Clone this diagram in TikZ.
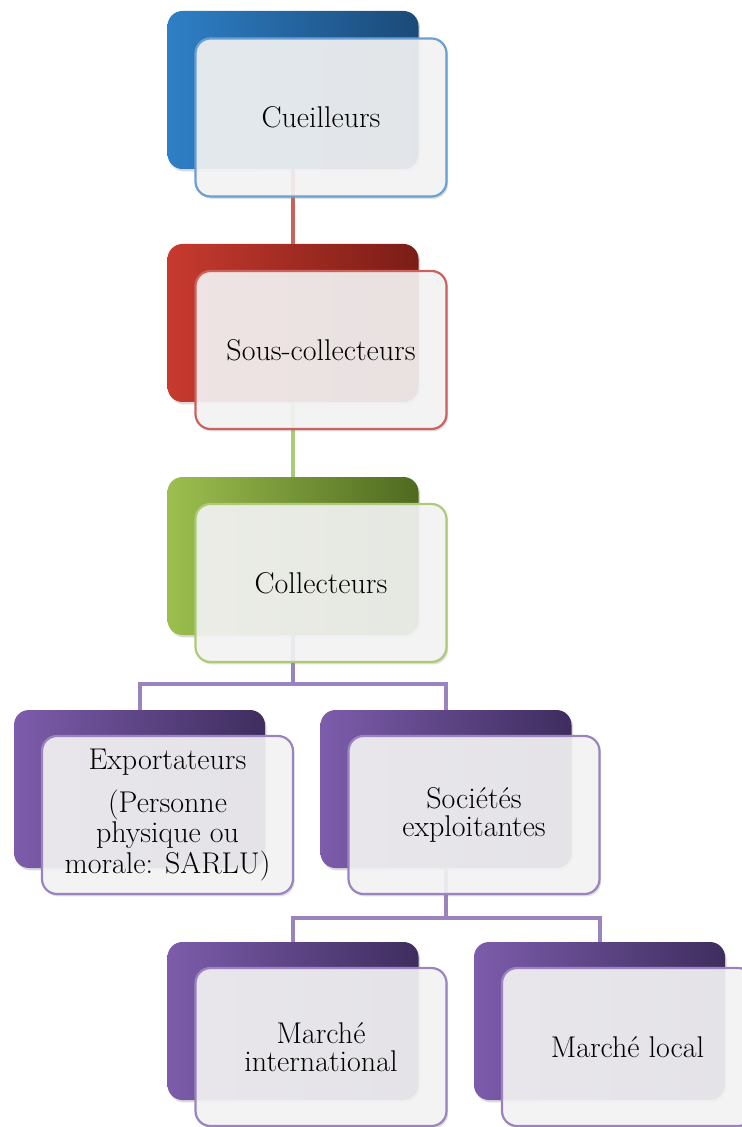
\documentclass[tikz,border=0pt]{standalone}
\usepackage{tikz}
\usetikzlibrary{shadows}
\definecolor{bluel}{HTML}{2E7FC6}
\definecolor{blued}{HTML}{1B4A78}
\definecolor{blueb}{HTML}{6A9FD4}
\definecolor{redl}{HTML}{C73A2F}
\definecolor{redd}{HTML}{7A1D16}
\definecolor{redb}{HTML}{CC625E}
\definecolor{greenl}{HTML}{9CBF4F}
\definecolor{greend}{HTML}{4F6A20}
\definecolor{greenb}{HTML}{ABCB76}
\definecolor{purl}{HTML}{7C5CAB}
\definecolor{purd}{HTML}{3E2D5E}
\definecolor{purb}{HTML}{9A84BF}
\tikzstyle{back}=[rectangle, rounded corners=7.5pt, minimum width=125.5pt, minimum height=79pt, inner sep=0pt, drop shadow={opacity=0.3, shadow xshift=0.8pt, shadow yshift=-1.2pt}]
\tikzstyle{front}=[rectangle, rounded corners=7.5pt, minimum width=125.5pt, minimum height=79pt, inner sep=2pt, line width=1.1pt, fill=black!4, fill opacity=0.9, text opacity=1, align=center, font=\fontsize{15}{14}\selectfont, drop shadow={opacity=0.25, shadow xshift=0.8pt, shadow yshift=-1.2pt}]
\tikzstyle{link}=[line width=2pt]

\begin{document}
\begin{tikzpicture}[x=0.5pt, y=-0.5pt]
    \useasboundingbox (0,0) rectangle (742,1127);
    \clip (0,0) rectangle (742,1127);
    % back boxes
    \node[back, left color=bluel, right color=blued] (cueilback) at (293,90) {};
    \node[back, left color=redl, right color=redd] (sousback) at (293,323) {};
    \node[back, left color=greenl, right color=greend] (collback) at (293,556) {};
    \node[back, left color=purl, right color=purd] (expback) at (139.5,789) {};
    \node[back, left color=purl, right color=purd] (socback) at (446,789) {};
    \node[back, left color=purl, right color=purd] (intback) at (293,1021) {};
    \node[back, left color=purl, right color=purd] (locback) at (599.5,1021) {};
    % links
    \draw[link, redb] (cueilback.south) -- (sousback.north);
    \draw[link, greenb] (sousback.south) -- (collback.north);
    \draw[link, purb] (collback.south) -- ++(0,49) -| (expback.north);
    \draw[link, purb] (collback.south) -- ++(0,49) -| (socback.north);
    \draw[link, purb] (socback.south) -- ++(0,50) -| (intback.north);
    \draw[link, purb] (socback.south) -- ++(0,50) -| (locback.north);
    % front boxes
    \node[front, draw=blueb] (cueil) at ([shift={(28,27.5)}]cueilback.center) {Cueilleurs};
    \node[front, draw=redb] (sous) at ([shift={(28,27)}]sousback.center) {Sous-collecteurs};
    \node[front, draw=greenb] (coll) at ([shift={(28,27)}]collback.center) {Collecteurs};
    \node[front, draw=purb] (exp) at ([shift={(28,26)}]expback.center) {Exportateurs\\[6pt](Personne\\physique ou\\morale: SARLU)};
    \node[front, draw=purb] (soc) at ([shift={(28,26)}]socback.center) {Sociétés\\exploitantes};
    \node[front, draw=purb] (int) at ([shift={(28,26)}]intback.center) {Marché\\international};
    \node[front, draw=purb] (loc) at ([shift={(28,26)}]locback.center) {Marché local};
\end{tikzpicture}
\end{document}
